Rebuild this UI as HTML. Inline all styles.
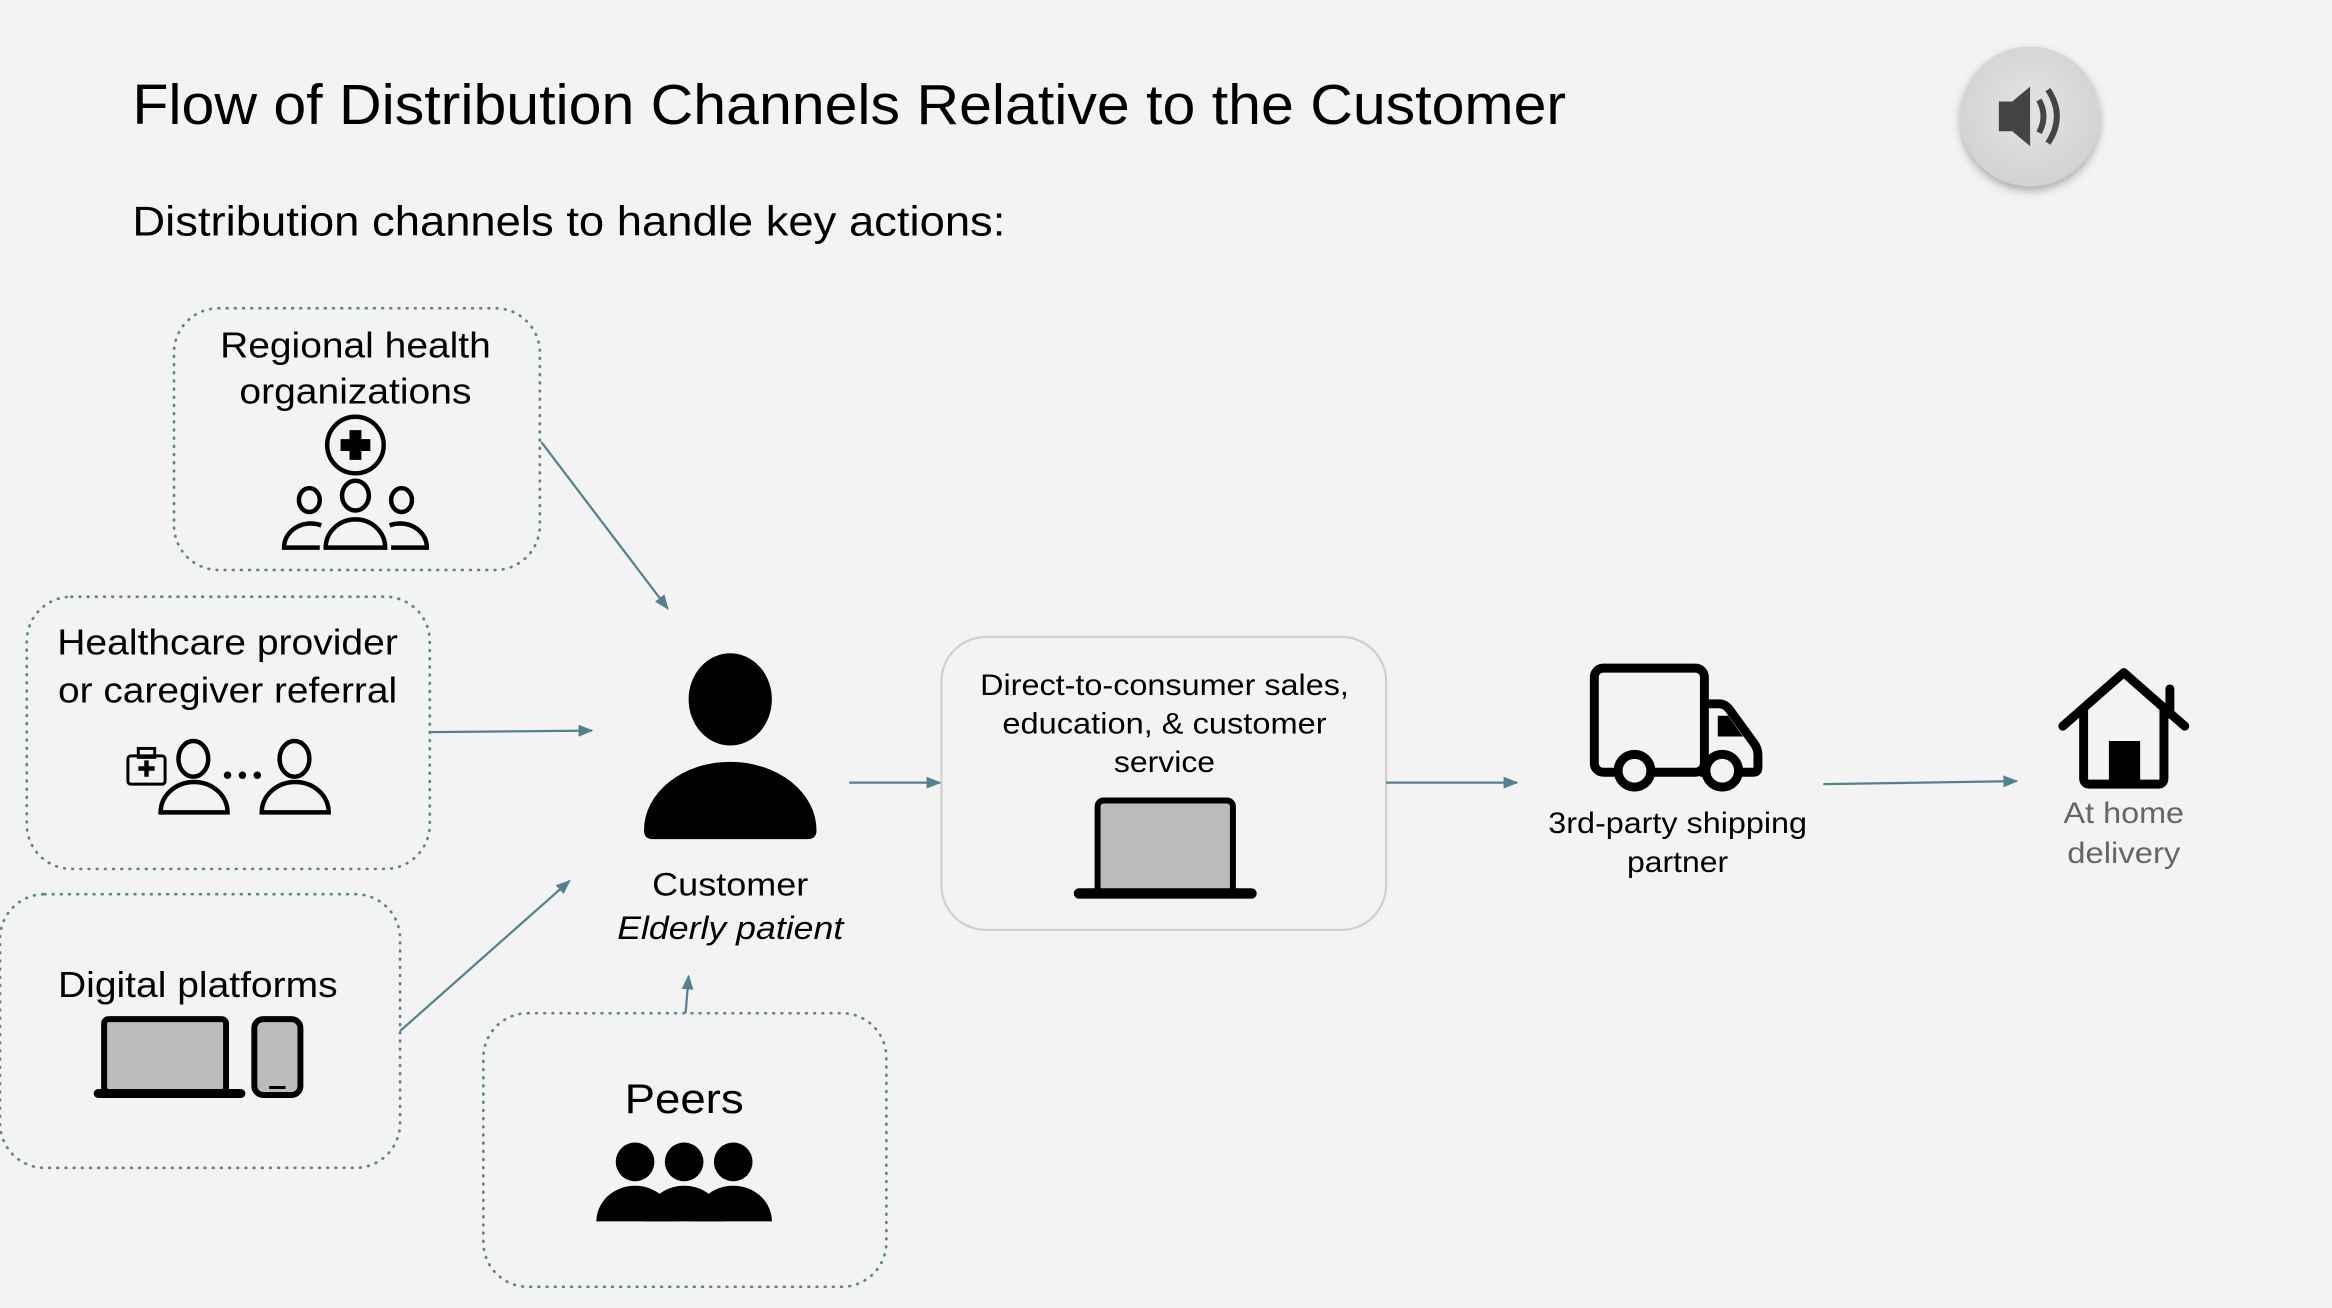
<!DOCTYPE html>
<html><head><meta charset="utf-8"><style>
html,body{margin:0;padding:0;background:#f3f3f3;}
svg{display:block;}
text{font-family:"Liberation Sans",Arial,sans-serif;}
</style></head><body>
<svg width="2332" height="1308" viewBox="0 0 1568 879" xmlns="http://www.w3.org/2000/svg">
<defs>
<marker id="a" markerWidth="10" markerHeight="8" refX="9" refY="4" orient="auto" markerUnits="userSpaceOnUse"><path d="M0,0 L10,4 L0,8 z" fill="#55808e"/></marker>
<radialGradient id="sp" cx="50%" cy="45%" r="55%"><stop offset="0" stop-color="#e4e4e4"/><stop offset="1" stop-color="#d2d2d2"/></radialGradient>
<filter id="sh" x="-30%" y="-30%" width="160%" height="170%"><feDropShadow dx="0" dy="3" stdDeviation="3" flood-opacity="0.3"/></filter>
</defs>
<rect width="1568" height="879" fill="#f3f3f3"/>
<text x="89" y="83" font-size="38" fill="#000" textLength="964" lengthAdjust="spacingAndGlyphs">Flow of Distribution Channels Relative to the Customer</text>
<text x="89" y="158" font-size="28" fill="#000" textLength="587" lengthAdjust="spacingAndGlyphs">Distribution channels to handle key actions:</text>
<!-- speaker -->
<circle cx="1365" cy="78" r="47" fill="url(#sp)" filter="url(#sh)"/>
<path d="M1344,68 h9 l12,-10 v40 l-12,-10 h-9 z" fill="#444"/>
<path d="M1371,67 q6,11 0,22" stroke="#444" stroke-width="4" fill="none"/>
<path d="M1377,60 q12,18 0,36" stroke="#444" stroke-width="4" fill="none"/>
<!-- dotted boxes -->
<g fill="none" stroke="#5a8590" stroke-width="1.8" stroke-dasharray="0.5,5" stroke-linecap="round">
<rect x="117" y="207" width="246" height="176" rx="30"/>
<rect x="18" y="401" width="271" height="183" rx="30"/>
<rect x="0" y="601" width="269" height="184" rx="30"/>
<rect x="325" y="681" width="271" height="184" rx="30"/>
</g>
<rect x="633" y="428" width="299" height="197" rx="30" fill="#f3f3f3" stroke="#d0d0d0" stroke-width="1.5"/>
<!-- texts -->
<g font-size="24" fill="#000" text-anchor="middle" lengthAdjust="spacingAndGlyphs">
<text x="239" y="240" textLength="182" lengthAdjust="spacingAndGlyphs">Regional health</text>
<text x="239" y="271" textLength="156" lengthAdjust="spacingAndGlyphs">organizations</text>
<text x="153" y="440" textLength="229" lengthAdjust="spacingAndGlyphs">Healthcare provider</text>
<text x="153" y="472" textLength="228" lengthAdjust="spacingAndGlyphs">or caregiver referral</text>
<text x="133" y="670" textLength="188" lengthAdjust="spacingAndGlyphs">Digital platforms</text>
<text x="460" y="748" font-size="28" textLength="80" lengthAdjust="spacingAndGlyphs">Peers</text>
<text x="491" y="602" font-size="22" textLength="105" lengthAdjust="spacingAndGlyphs">Customer</text>
<text x="491" y="631" font-size="22" font-style="italic" textLength="152" lengthAdjust="spacingAndGlyphs">Elderly patient</text>
<text x="783" y="467" font-size="20" textLength="248" lengthAdjust="spacingAndGlyphs">Direct-to-consumer sales,</text>
<text x="783" y="493" font-size="20" textLength="218" lengthAdjust="spacingAndGlyphs">education, &amp; customer</text>
<text x="783" y="519" font-size="20" textLength="68" lengthAdjust="spacingAndGlyphs">service</text>
<text x="1128" y="560" font-size="20" textLength="174" lengthAdjust="spacingAndGlyphs">3rd-party shipping</text>
<text x="1128" y="586" font-size="20" textLength="68" lengthAdjust="spacingAndGlyphs">partner</text>
<text x="1428" y="553" font-size="20" fill="#666" textLength="81" lengthAdjust="spacingAndGlyphs">At home</text>
<text x="1428" y="580" font-size="20" fill="#666" textLength="76" lengthAdjust="spacingAndGlyphs">delivery</text>
</g>
<!-- arrows -->
<g stroke="#55808e" stroke-width="1.5" fill="none" marker-end="url(#a)">
<line x1="364" y1="297" x2="449" y2="409"/>
<line x1="289" y1="492" x2="398" y2="491"/>
<line x1="269" y1="693" x2="383" y2="592"/>
<line x1="461" y1="681" x2="463" y2="656"/>
<line x1="571" y1="526" x2="632" y2="526"/>
<line x1="932" y1="526" x2="1020" y2="526"/>
<line x1="1226" y1="527" x2="1356" y2="525"/>
</g>
<!-- regional icon -->
<circle cx="239" cy="299" r="19" fill="none" stroke="#000" stroke-width="3"/>
<path d="M235,289 h8 v6 h6 v8 h-6 v6 h-8 v-6 h-6 v-8 h6 z" fill="#000"/>
<g fill="none" stroke="#000" stroke-width="3">
<ellipse cx="208" cy="336" rx="7" ry="8"/><ellipse cx="239" cy="333" rx="9" ry="10"/><ellipse cx="270" cy="336" rx="7" ry="8"/>
<path d="M215,368 h-24 a18,16 0 0 1 25,-15"/>
<path d="M263,368 h24 a18,16 0 0 0 -25,-15"/>
<path d="M219,368 a20,19 0 0 1 40,0 z"/>
</g>
<!-- healthcare icon -->
<g fill="none" stroke="#000" stroke-width="3">
<ellipse cx="130" cy="510" rx="10" ry="12"/><ellipse cx="198" cy="510" rx="10" ry="12"/>
<path d="M108,546 a22,20 0 0 1 45,0 z"/><path d="M176,546 a22,20 0 0 1 45,0 z"/>
<rect x="86" y="508" width="25" height="19" rx="2" stroke-width="2"/>
<rect x="93" y="503" width="11" height="6" stroke-width="2"/>
</g>
<path d="M97,511 h3 v4 h4 v3 h-4 v4 h-3 v-4 h-4 v-3 h4 z" fill="#000"/>
<circle cx="153" cy="521" r="2.5" fill="#000"/><circle cx="163" cy="521" r="2.5" fill="#000"/><circle cx="173" cy="521" r="2.5" fill="#000"/>
<!-- digital icon -->
<rect x="70" y="685" width="82" height="49" rx="3" fill="#bbb" stroke="#000" stroke-width="4"/>
<rect x="63" y="732" width="102" height="6" rx="3" fill="#000"/>
<rect x="171" y="685" width="31" height="51" rx="6" fill="#bbb" stroke="#000" stroke-width="4"/>
<line x1="181" y1="731" x2="192" y2="731" stroke="#000" stroke-width="2"/>
<!-- peers icon -->
<g fill="#000">
<circle cx="427" cy="781" r="13"/><circle cx="460" cy="781" r="13"/><circle cx="493" cy="781" r="13"/>
<path d="M401,821 a26,24 0 0 1 52,0 z"/><path d="M434,821 a26,24 0 0 1 52,0 z"/><path d="M467,821 a26,24 0 0 1 52,0 z"/>
</g>
<!-- customer icon -->
<ellipse cx="491" cy="470" rx="28" ry="31" fill="#000"/>
<path d="M433,558 a58,46 0 0 1 116,0 q0,6 -6,6 h-104 q-6,0 -6,-6 z" fill="#000"/>
<!-- laptop in DTC -->
<rect x="738" y="538" width="91" height="62" rx="4" fill="#bbb" stroke="#000" stroke-width="4"/>
<rect x="722" y="597" width="123" height="7" rx="3.5" fill="#000"/>
<!-- truck -->
<g fill="none" stroke="#000" stroke-width="6" stroke-linejoin="round">
<rect x="1072" y="449" width="74" height="70" rx="6"/>
<path d="M1146,473 h10 q4,0 7,4 l16,22 q3,4 3,8 v9 q0,3 -3,3 h-36"/>
<circle cx="1099" cy="518" r="11" fill="#f3f3f3"/><circle cx="1158" cy="518" r="11" fill="#f3f3f3"/>
</g>
<path d="M1155,481 h7 l10,14 h-17 z" fill="#000"/>
<!-- house -->
<g fill="none" stroke="#000" stroke-width="6" stroke-linecap="round" stroke-linejoin="round">
<path d="M1387,488 l41,-36 l41,36"/>
<path d="M1401,477 v46 q0,4 4,4 h46 q4,0 4,-4 v-46"/>
<line x1="1459" y1="463" x2="1459" y2="480"/>
</g>
<rect x="1418" y="498" width="21" height="29" fill="#000"/>
</svg>
</body></html>
